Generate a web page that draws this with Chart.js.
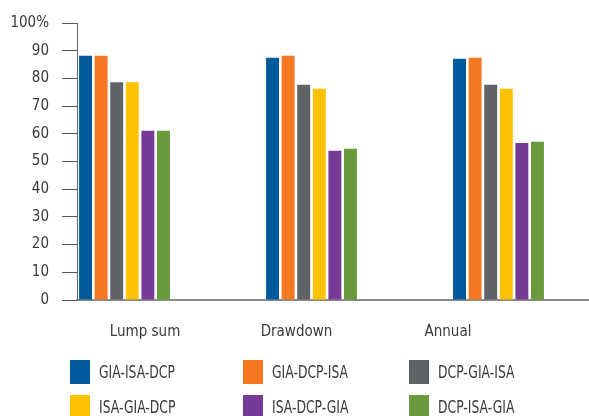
<!DOCTYPE html>
<html lang="en">
<head>
  <meta charset="UTF-8">
  <title>Bar chart</title>
  <script src="https://cdn.jsdelivr.net/npm/chart.js"></script>
  <style>
    html, body {
      margin: 0;
      padding: 0;
      background: #fff;
      font-family: 'Liberation Sans Narrow', 'DejaVu Sans Condensed', sans-serif;
      color: #3a3a3a;
    }
    .wrap {
      position: relative;
      width: 589px;
      height: 416px;
      overflow: hidden;
    }
    #legend {
      position: absolute;
      left: 70px;
      top: 360px;
      display: grid;
      grid-template-columns: 173px 166px 170px;
      row-gap: 11px;
    }
    .item {
      display: flex;
      align-items: center;
      height: 24px;
    }
    .swatch {
      width: 20px;
      height: 24px;
      margin-right: 9px;
      flex: none;
    }
    .name {
      font-size: 17px;
      transform: scaleX(0.81);
      transform-origin: left center;
      white-space: nowrap;
    }
  </style>
</head>
<body>
<div class="wrap">
  <canvas id="chart" width="589" height="416"></canvas>
  <div id="legend"></div>
</div>

<script>
const categories = ['Lump sum', 'Drawdown', 'Annual'];
const seriesNames = ['GIA-ISA-DCP', 'GIA-DCP-ISA', 'DCP-GIA-ISA', 'ISA-GIA-DCP', 'ISA-DCP-GIA', 'DCP-ISA-GIA'];
const seriesColors = ['#005a9b', '#f57722', '#5f6367', '#ffc200', '#763b96', '#669a3b'];
const yTickLabels = ['0', '10', '20', '30', '40', '50', '60', '70', '80', '90', '100%'];

const giaIsaDcp = [88.2, 87.5, 87.1];
const giaDcpIsa = [88.2, 88.2, 87.5];
const dcpGiaIsa = [78.6, 77.7, 77.7];
const isaGiaDcp = [78.6, 76.3, 76.3];
const isaDcpGia = [61.1, 53.9, 56.7];
const dcpIsaGia = [61.1, 54.6, 57.1];

const seriesValues = [giaIsaDcp, giaDcpIsa, dcpGiaIsa, isaGiaDcp, isaDcpGia, dcpIsaGia];

const FONT = "'Liberation Sans Narrow', 'DejaVu Sans Condensed', sans-serif";

// bars sit on category index 0,1,2 of a linear axis
const datasets = seriesNames.map((name, s) => ({
  label: name,
  data: seriesValues[s].map((v, i) => ({ x: i, y: v })),
  backgroundColor: seriesColors[s],
  borderWidth: 0,
  barPercentage: 0.83,
  categoryPercentage: 0.5
}));

const indexTicks = scale => { scale.ticks = categories.map((c, i) => ({ value: i })); };

new Chart(document.getElementById('chart'), {
  type: 'bar',
  data: { datasets: datasets },
  options: {
    responsive: false,
    animation: false,
    layout: { padding: { top: 23, right: 0, bottom: 0, left: 0 } },
    plugins: { legend: { display: false }, tooltip: { enabled: false } },
    scales: {
      x: {
        type: 'linear',
        position: 'bottom',
        offset: false,
        min: -0.254,
        max: 2.484,
        afterBuildTicks: indexTicks,
        afterFit: scale => { scale.height = 0; },
        ticks: { display: false },
        grid: { display: false, offset: false },
        border: { display: true, color: '#8a8a8a', width: 2 }
      },
      xl: {
        type: 'linear',
        position: 'bottom',
        offset: false,
        min: -0.449,
        max: 2.931,
        afterBuildTicks: indexTicks,
        afterFit: scale => { scale.height = 116; },
        grid: { display: false, offset: false },
        border: { display: false },
        ticks: {
          padding: 15,
          color: '#3a3a3a',
          font: { family: FONT, size: 15 },
          maxRotation: 0,
          autoSkip: false,
          callback: v => categories[v]
        }
      },
      y: {
        min: 0,
        max: 100,
        afterFit: scale => { scale.width = 77; },
        ticks: {
          stepSize: 10,
          padding: 13,
          color: '#3a3a3a',
          font: { family: FONT, size: 15 },
          callback: (v, i) => yTickLabels[i]
        },
        grid: {
          drawOnChartArea: false,
          drawTicks: true,
          tickLength: 15,
          color: '#555',
          lineWidth: 1
        },
        border: { display: true, color: '#666', width: 1 }
      }
    }
  }
});

const legend = document.getElementById('legend');
seriesNames.forEach((name, s) => {
  const item = document.createElement('div');
  item.className = 'item';
  item.innerHTML = `<span class="swatch" style="background:${seriesColors[s]}"></span><span class="name">${name}</span>`;
  legend.appendChild(item);
});
</script>
</body>
</html>
